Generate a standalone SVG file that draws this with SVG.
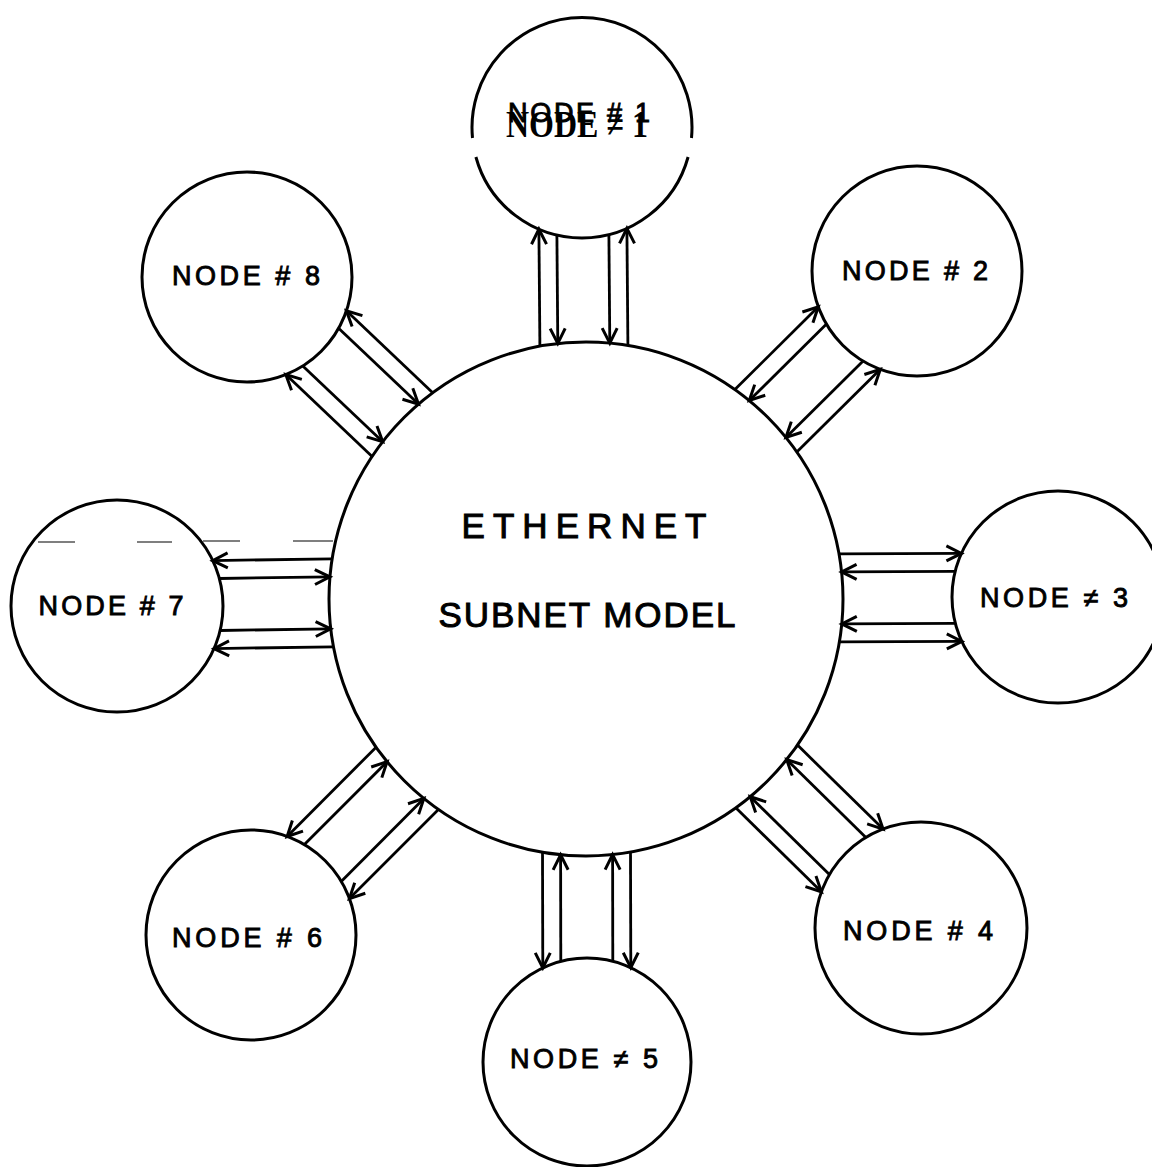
<svg xmlns="http://www.w3.org/2000/svg" width="1152" height="1167" viewBox="0 0 1152 1167">
<style>
.c{fill:none;stroke:#000;stroke-width:3}
.l{stroke:#000;stroke-width:2.8;fill:none;marker-end:url(#ah)}
.t{font-family:"Liberation Sans",Arial,sans-serif;font-size:27px;fill:#000;stroke:#000;stroke-width:0.9;text-anchor:middle}
.big{font-family:"Liberation Sans",Arial,sans-serif;font-size:35px;fill:#000;stroke:#000;stroke-width:1;text-anchor:middle}
.ser{font-family:"Liberation Serif","Times New Roman",serif;font-size:38px;font-weight:bold;fill:#000;text-anchor:middle}
.f{stroke:#555;stroke-width:1.5}
</style>
<defs>
<marker id="ah" markerUnits="userSpaceOnUse" markerWidth="20" markerHeight="18" viewBox="-17 -9 20 18" refX="0" refY="0" orient="auto" overflow="visible">
<path d="M-15,-7.5 L0,0 L-15,7.5" fill="none" stroke="#000" stroke-width="3" stroke-linejoin="miter"/>
</marker>
</defs>
<rect width="1152" height="1167" fill="#fff"/>
<g id="artifacts">
<line class="f" x1="38" y1="542" x2="75" y2="542"/>
<line class="f" x1="137" y1="542" x2="172" y2="542"/>
<line class="f" x1="203" y1="541" x2="240" y2="541"/>
<line class="f" x1="293" y1="541" x2="333" y2="541"/>
</g>
<g id="ethernet">
<circle class="c" cx="586" cy="599" r="257"/>
<text class="big" x="584" y="538" textLength="245">ETHERNET</text>
<text class="big" x="587" y="627" textLength="297">SUBNET MODEL</text>
</g>
<g id="node1">
<path class="c" d="M472.5,138 A110,110 0 1 1 691.5,138"/>
<path class="c" d="M475.9,157 A110,110 0 0 0 688.1,157"/>
<text class="t" x="579" y="122" textLength="142">NODE # 1</text>
<text class="ser" x="577" y="137" textLength="142" lengthAdjust="spacingAndGlyphs">NODE ≠ 1</text>
</g>
<g id="node2">
<circle class="c" cx="917" cy="271" r="105"/>
<text class="t" x="915" y="280" textLength="146">NODE # 2</text>
</g>
<g id="node3">
<circle class="c" cx="1058" cy="597" r="106"/>
<text class="t" x="1054" y="607" textLength="148">NODE ≠ 3</text>
</g>
<g id="node4">
<circle class="c" cx="921" cy="928" r="106"/>
<text class="t" x="918" y="940" textLength="150">NODE # 4</text>
</g>
<g id="node5">
<circle class="c" cx="587" cy="1062" r="104"/>
<text class="t" x="584" y="1068" textLength="148">NODE ≠ 5</text>
</g>
<g id="node6">
<circle class="c" cx="251" cy="935" r="105"/>
<text class="t" x="247" y="947" textLength="150">NODE # 6</text>
</g>
<g id="node7">
<circle class="c" cx="117" cy="606" r="106"/>
<text class="t" x="111" y="615" textLength="145">NODE # 7</text>
</g>
<g id="node8">
<circle class="c" cx="247" cy="277" r="105"/>
<text class="t" x="246" y="285" textLength="148">NODE # 8</text>
</g>
<g id="connectors">
<line class="l" x1="539.9" y1="346.2" x2="538.9" y2="229.2"/>
<line class="l" x1="556.9" y1="235.1" x2="557.8" y2="343.5"/>
<line class="l" x1="608.9" y1="234.7" x2="609.8" y2="343.1"/>
<line class="l" x1="627.9" y1="345.4" x2="626.9" y2="228.4"/>

<line class="l" x1="734.9" y1="389.5" x2="818.3" y2="306.8"/>
<line class="l" x1="826.5" y1="324.1" x2="749.3" y2="400.5"/>
<line class="l" x1="863.1" y1="361.1" x2="785.9" y2="437.5"/>
<line class="l" x1="796.8" y1="452.0" x2="880.3" y2="369.3"/>

<line class="l" x1="839.0" y1="553.9" x2="961.4" y2="553.4"/>
<line class="l" x1="955.1" y1="571.4" x2="841.6" y2="571.9"/>
<line class="l" x1="955.3" y1="623.4" x2="841.8" y2="623.9"/>
<line class="l" x1="839.4" y1="641.9" x2="961.8" y2="641.4"/>

<line class="l" x1="797.5" y1="745.1" x2="883.1" y2="829.1"/>
<line class="l" x1="865.9" y1="837.4" x2="786.7" y2="759.6"/>
<line class="l" x1="829.4" y1="874.5" x2="750.2" y2="796.7"/>
<line class="l" x1="735.8" y1="807.8" x2="821.4" y2="891.8"/>

<line class="l" x1="630.5" y1="852.1" x2="630.8" y2="967.7"/>
<line class="l" x1="612.8" y1="961.2" x2="612.6" y2="854.6"/>
<line class="l" x1="560.8" y1="961.4" x2="560.6" y2="854.8"/>
<line class="l" x1="542.5" y1="852.3" x2="542.8" y2="967.9"/>

<line class="l" x1="438.4" y1="809.4" x2="349.4" y2="898.6"/>
<line class="l" x1="341.2" y1="881.4" x2="423.9" y2="798.4"/>
<line class="l" x1="304.4" y1="844.6" x2="387.1" y2="761.7"/>
<line class="l" x1="376.1" y1="747.2" x2="287.1" y2="836.5"/>

<line class="l" x1="333.5" y1="646.8" x2="214.1" y2="648.6"/>
<line class="l" x1="220.2" y1="630.5" x2="330.7" y2="628.8"/>
<line class="l" x1="219.4" y1="578.5" x2="329.9" y2="576.8"/>
<line class="l" x1="332.2" y1="558.8" x2="212.7" y2="560.6"/>

<line class="l" x1="372.1" y1="456.6" x2="285.8" y2="374.5"/>
<line class="l" x1="302.8" y1="365.9" x2="382.7" y2="441.8"/>
<line class="l" x1="338.6" y1="328.2" x2="418.5" y2="404.1"/>
<line class="l" x1="432.7" y1="392.8" x2="346.4" y2="310.7"/>
</g>
</svg>
